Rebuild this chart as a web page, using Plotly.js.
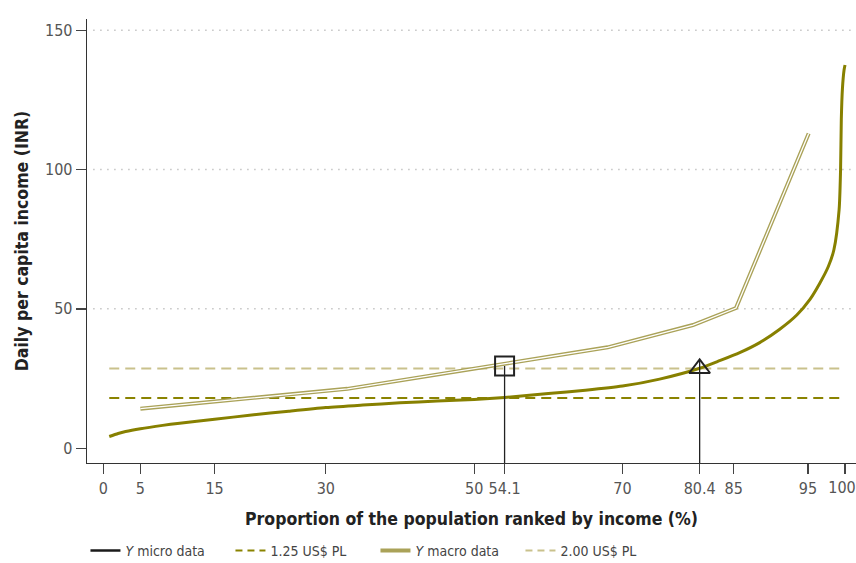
<!DOCTYPE html>
<html>
<head>
<meta charset="utf-8">
<script src="https://cdn.plot.ly/plotly-3.0.1.min.js"></script>
<style>
html,body{margin:0;padding:0;background:#fff;overflow:hidden;}
#chart{width:856px;height:563px;}
</style>
</head>
<body>
<div id="chart"></div>
<script>
// ---- data ----
var microX = [0.8, 2, 3, 5, 8, 10, 15, 20, 25, 30, 35, 40, 45, 50, 54.1, 60, 65, 70, 75, 80.4, 83.1, 85.8, 88.5, 91.2, 93.5, 95.3, 96.6, 97.75, 98.5, 99.2, 99.4, 99.5, 99.65, 99.87, 100];
var microY = [4.2, 5.3, 6.0, 7.0, 8.2, 8.9, 10.4, 11.9, 13.3, 14.6, 15.5, 16.3, 16.9, 17.5, 18.2, 19.6, 20.8, 22.3, 24.8, 28.7, 31.4, 34.3, 37.9, 42.7, 47.8, 53.5, 59.2, 65.2, 71.2, 85.5, 100, 118, 129, 135.7, 137.5];
var macroX = [5, 32.9, 68, 79.5, 85.3, 95.1];
var macroY = [14.2, 21.3, 36.2, 44.2, 50.3, 112.9];
var plLevels = [18.0, 28.6];
var plNames = ["1.25 US$ PL", "2.00 US$ PL"];
var plRange = [0.8, 100];
var markerX = [54.1, 80.4];
var markerY = [29.5, 28.6];
var dropTopY = [29.5, 31.8];
var xTicks = [0, 5, 15, 30, 50, 54.1, 70, 80.4, 85, 95, 100];
var xTickText = ["0", "5", "15", "30", "50", "54.1", "70", "80.4", "85", "95", ""];
var xEdgeTick = [100];
var xEdgeTickText = ["100"];
var yTicks = [0, 50, 100, 150];
var gridY = [50, 100, 150];

// ---- style ----
var FONT = '"DejaVu Sans Condensed", "DejaVu Sans", sans-serif';
var OLIVE = '#878000';
var OLIVE_DASH = '#8a8300';
var LIGHT_DASH = '#c9c18c';
var MACRO = '#aaa258';
var YMIN = -5.3, YMAX = 154;
var XRANGE = [-2.2, 101.48];

var traces = [];
traces.push({x: plRange, y: [plLevels[1], plLevels[1]], mode: 'lines', showlegend: false,
  line: {color: LIGHT_DASH, width: 2, dash: '10px,6px'}, hoverinfo: 'skip'});
traces.push({x: plRange, y: [plLevels[0], plLevels[0]], mode: 'lines', showlegend: false,
  line: {color: OLIVE_DASH, width: 2, dash: '10px,6px'}, hoverinfo: 'skip'});
traces.push({x: macroX, y: macroY, mode: 'lines', showlegend: false,
  line: {color: MACRO, width: 4}});
traces.push({x: macroX, y: macroY, mode: 'lines', showlegend: false,
  line: {color: '#ffffff', width: 1.3}});
traces.push({x: microX, y: microY, mode: 'lines', showlegend: false,
  line: {color: OLIVE, width: 3, shape: 'spline', smoothing: 0.7}});
for (var i = 0; i < markerX.length; i++) {
  traces.push({x: [markerX[i], markerX[i]], y: [dropTopY[i], YMIN], mode: 'lines', showlegend: false,
    line: {color: '#222', width: 1.3}, cliponaxis: false});
}
traces.push({x: [markerX[0]], y: [markerY[0]], mode: 'markers', showlegend: false,
  marker: {symbol: 'square-open', size: 19, color: '#222', line: {width: 2, color: '#222'}}});
traces.push({x: [markerX[1]], y: [markerY[1]], mode: 'markers', showlegend: false,
  marker: {symbol: 'triangle-up-open', size: 18, color: '#222', line: {width: 2, color: '#222'}}});
// anchor trace for the edge-label axis
traces.push({x: [null], y: [null], xaxis: 'x2', mode: 'lines', showlegend: false, hoverinfo: 'skip'});

traces.push({x: [null], y: [null], mode: 'lines', name: '<i>Y</i> micro data',
  line: {color: '#1a1a1a', width: 2.5}});
traces.push({x: [null], y: [null], mode: 'lines', name: plNames[0],
  line: {color: OLIVE_DASH, width: 2, dash: '7px,5px'}});
traces.push({x: [null], y: [null], mode: 'lines', name: '<i>Y</i> macro data',
  line: {color: MACRO, width: 4}});
traces.push({x: [null], y: [null], mode: 'lines', name: plNames[1],
  line: {color: LIGHT_DASH, width: 2, dash: '7px,5px'}});

var shapes = gridY.map(function (v) {
  return {type: 'line', xref: 'paper', yref: 'y', x0: 0.008, x1: 1, y0: v, y1: v,
    line: {color: '#c4c4c4', width: 1.5, dash: '1.5px,5.5px'}, layer: 'below'};
});

var tickFont = {family: FONT, size: 16, color: '#555', stretch: 'condensed'};
var titleFont = {family: FONT, size: 17.5, color: '#222', weight: 'bold', stretch: 'condensed'};

var layout = {
  width: 856, height: 563,
  margin: {l: 87, r: 0, t: 19, b: 100, autoexpand: false},
  paper_bgcolor: '#fff', plot_bgcolor: '#fff',
  font: {family: FONT, color: '#555', size: 16, stretch: 'condensed'},
  showlegend: true,
  legend: {orientation: 'h', x: -0.002, xanchor: 'left', y: -0.198, yanchor: 'middle',
    font: {family: FONT, size: 14, color: '#444', stretch: 'condensed'},
    itemwidth: 30, entrywidth: 100, entrywidthmode: 'pixels', tracegroupgap: 0},
  xaxis: {
    range: XRANGE, showgrid: false, zeroline: false, automargin: false,
    showline: true, linecolor: '#333', linewidth: 1.3,
    ticks: 'outside', ticklen: 10, tickwidth: 1.3, tickcolor: '#444',
    tickmode: 'array', tickvals: xTicks, ticktext: xTickText, tickangle: 0,
    ticklabeloverflow: 'allow',
    tickfont: tickFont,
    title: {text: 'Proportion of the population ranked by income (%)', standoff: 16, font: titleFont}
  },
  xaxis2: {
    range: XRANGE, overlaying: 'x', side: 'bottom', anchor: 'y',
    showgrid: false, zeroline: false, automargin: false, showline: false,
    ticks: 'outside', ticklen: 10, tickwidth: 1.3, tickcolor: '#444',
    tickmode: 'array', tickvals: xEdgeTick, ticktext: xEdgeTickText, tickangle: 0,
    ticklabeloverflow: 'allow', ticklabelshift: -3,
    tickfont: tickFont
  },
  yaxis: {
    range: [YMIN, YMAX], showgrid: false, zeroline: false, automargin: false,
    showline: true, linecolor: '#333', linewidth: 1.3,
    ticks: 'outside', ticklen: 10, tickwidth: 1.3, tickcolor: '#444',
    tickmode: 'array', tickvals: yTicks,
    tickfont: tickFont,
    title: {text: 'Daily per capita income (INR)', standoff: 12, font: titleFont}
  },
  shapes: shapes
};

Plotly.newPlot('chart', traces, layout, {displayModeBar: false, staticPlot: true});
</script>
</body>
</html>
